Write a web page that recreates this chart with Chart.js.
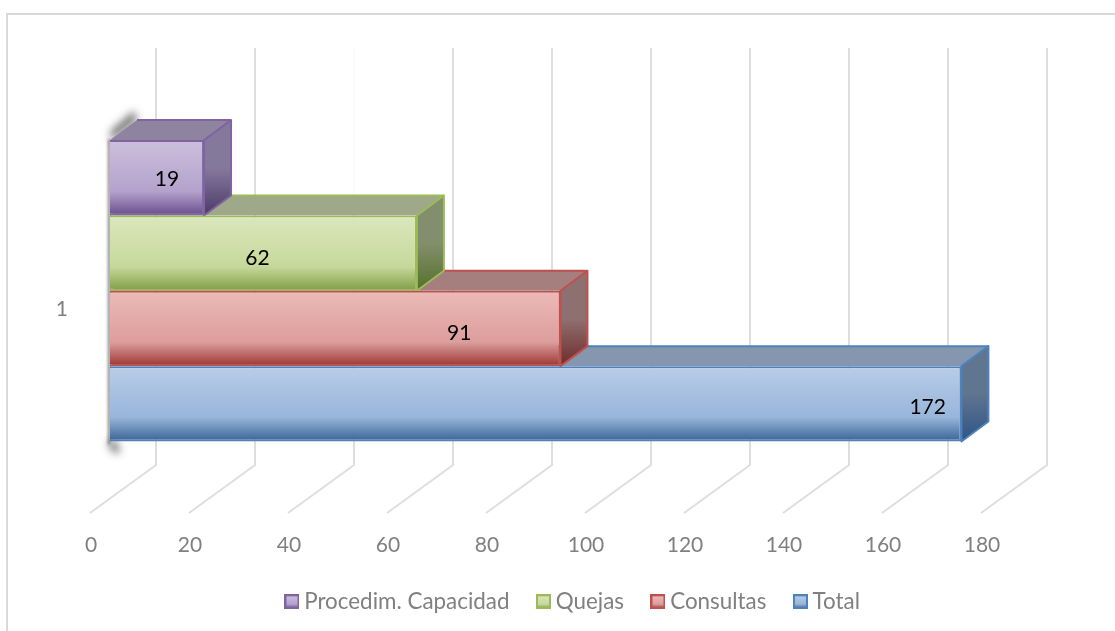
<!DOCTYPE html>
<html><head><meta charset="utf-8">
<style>html,body{margin:0;padding:0;background:#fff;overflow:hidden}#w{position:relative;width:1115px;height:631px}</style>
<script src="https://cdn.jsdelivr.net/npm/chart.js@4"></script>
</head><body><div id="w"><canvas id="c" width="1115" height="631"></canvas></div>
<script>
const categories = ['1'];
const seriesNames = ['Procedim. Capacidad', 'Quejas', 'Consultas', 'Total'];
const procedim = [19];
const quejas = [62];
const consultas = [91];
const total = [172];
const xTicks = [0, 20, 40, 60, 80, 100, 120, 140, 160, 180];

const looks = [
 {border:'#8064a2', front:['#cdbfdc','#b4a2cc','#694c8c'], top:'#8f849f', side:['#85799b','#4c3a68'], dx:10, dy:1.5},
 {border:'#9bbb59', front:['#dbe7bd','#c6d99b','#7f9e46'], top:'#9fa98a', side:['#838f6c','#55702a'], dx:-6, dy:5},
 {border:'#c0504d', front:['#ecbab8','#dc9e9c','#9c3633'], top:'#a57f7e', side:['#8f7070','#6f2b2a'], dx:124, dy:4.5},
 {border:'#4f81bd', front:['#b9cde8','#98b5da','#386295'], top:'#8597ae', side:['#5f7590','#2f5484'], dx:392, dy:3.5}
];
const values = [procedim, quejas, consultas, total];
const depth = {x:27, y:-20};
const wall = {dx:46, top:48, bottom:465, frontDx:-20, frontBottom:513, fadedTick:40, fadeUntil:196};
const legendShift = 75;

function swatch(l){
  const s=document.createElement('canvas'); s.width=15; s.height=15;
  const g=s.getContext('2d');
  const gr=g.createLinearGradient(0,1,0,14);
  gr.addColorStop(0,l.front[0]); gr.addColorStop(.7,l.front[1]); gr.addColorStop(1,l.front[2]);
  g.fillStyle=gr; g.fillRect(0,0,15,15);
  g.strokeStyle=l.border; g.lineWidth=2; g.strokeRect(1,1,13,13);
  return s;
}

const threeD = {
  id:'threeD',
  afterLayout(chart){
    chart.legend.left+=legendShift; chart.legend.right+=legendShift;
  },
  afterDatasetsUpdate(chart){
    chart.data.datasets.forEach((d,i)=>{
      const el=chart.getDatasetMeta(i).data[0], l=looks[i];
      const top=el.y-el.height/2, bot=el.y+el.height/2;
      const g=chart.ctx.createLinearGradient(0,top,0,bot);
      g.addColorStop(0,l.front[0]); g.addColorStop(.68,l.front[1]); g.addColorStop(1,l.front[2]);
      el.options=Object.assign({},el.options,{backgroundColor:g});
    });
  },
  beforeDatasetsDraw(chart){
    const c=chart.ctx, x=chart.scales.x;
    c.save();
    // frame
    c.strokeStyle='#d9d9d9'; c.lineWidth=2;
    c.beginPath(); c.moveTo(7,631); c.lineTo(7,14); c.lineTo(1115,14); c.stroke();
    // walls
    c.lineWidth=2; c.strokeStyle='#dedede';
    xTicks.forEach(v=>{
      const p=x.getPixelForValue(v);
      const faded=v===wall.fadedTick;
      if(faded){
        c.save(); c.strokeStyle='#f6f6f6'; c.lineWidth=1;
        c.beginPath(); c.moveTo(p+wall.dx,wall.top); c.lineTo(p+wall.dx,wall.fadeUntil); c.stroke();
        c.restore();
      }
      c.beginPath();
      c.moveTo(p+wall.dx,faded?wall.fadeUntil:wall.top); c.lineTo(p+wall.dx,wall.bottom);
      c.lineTo(p+wall.frontDx,wall.frontBottom);
      c.stroke();
    });
    // soft shadow of the block on the left, only the blur is shown
    const els=chart.data.datasets.map((d,i)=>chart.getDatasetMeta(i).data[0]);
    const e0=els[0], eN=els[els.length-1];
    const L=x.getPixelForValue(0), T=e0.y-e0.height/2, B=eN.y+eN.height/2;
    const off=3000;
    c.save();
    c.shadowOffsetX=off; c.shadowColor='rgba(70,70,70,.8)'; c.shadowBlur=8;
    c.fillStyle='#000';
    c.beginPath();
    c.moveTo(L+1-off,T+1); c.lineTo(L+1-off,T-9); c.lineTo(L+24-off,T-29); c.lineTo(L+27-off,T-20); c.closePath();
    c.fill();
    c.strokeStyle='#000'; c.lineCap='round';
    c.lineWidth=7;
    c.beginPath(); c.moveTo(L+2-off,B+2); c.lineTo(L+6-off,B+8); c.stroke();
    c.shadowBlur=3; c.lineWidth=2;
    c.beginPath(); c.moveTo(L-1-off,T); c.lineTo(L-1-off,B+2); c.stroke();
    c.restore();
    // side and top faces, back to front
    for(let i=els.length-1;i>=0;i--){
      const e=els[i], l=looks[i];
      const t=e.y-e.height/2, b=e.y+e.height/2, r=e.x, a=x.getPixelForValue(0);
      c.lineWidth=2; c.strokeStyle=l.border; c.lineJoin='round';
      c.fillStyle=l.top;
      c.beginPath(); c.moveTo(a,t); c.lineTo(a+depth.x,t+depth.y); c.lineTo(r+depth.x,t+depth.y); c.lineTo(r,t); c.closePath(); c.fill();
      c.beginPath(); c.moveTo(a+depth.x,t+depth.y); c.lineTo(r+depth.x,t+depth.y); c.stroke();
      const g=c.createLinearGradient(0,t+depth.y,0,b);
      g.addColorStop(0,l.side[0]); g.addColorStop(.5,l.side[0]); g.addColorStop(1,l.side[1]);
      c.fillStyle=g;
      c.beginPath(); c.moveTo(r,t); c.lineTo(r+depth.x,t+depth.y); c.lineTo(r+depth.x,b+depth.y); c.lineTo(r,b); c.closePath(); c.fill(); c.stroke();
    }
    c.restore();
  },
  afterDatasetsDraw(chart){
    const c=chart.ctx;
    c.save();
    c.font='21px Lato'; c.fillStyle='#000'; c.textAlign='center'; c.textBaseline='middle';
    chart.data.datasets.forEach((d,i)=>{
      const e=chart.getDatasetMeta(i).data[0], l=looks[i];
      const mid=(chart.scales.x.getPixelForValue(0)+e.x)/2;
      c.fillText(String(d.data[0]),mid+l.dx,e.y+l.dy);
    });
    c.restore();
  }
};

new Chart(document.getElementById('c'),{
  type:'bar',
  plugins:[threeD],
  data:{labels:categories,datasets:seriesNames.map((n,i)=>({
    label:n,data:values[i],backgroundColor:looks[i].front[1],borderColor:looks[i].border,borderWidth:2,
    categoryPercentage:301/459,barPercentage:1
  }))},
  options:{
    indexAxis:'y',responsive:false,animation:false,
    layout:{padding:{top:61,right:114,left:0,bottom:8}},
    scales:{
      x:{min:0,max:180,afterBuildTicks(a){a.ticks=xTicks.map(v=>({value:v}));},
         afterFit(s){s.height=37;},
         grid:{display:false},border:{display:false},
         ticks:{color:'#808080',font:{family:'Lato',size:21},labelOffset:-19,padding:4,maxRotation:0,autoSkip:false}},
      y:{afterFit(s){s.width=110;},grid:{display:false},border:{display:false},
         ticks:{color:'#808080',font:{family:'Lato',size:21},labelOffset:18,padding:34}}
    },
    plugins:{
      tooltip:{enabled:false},
      legend:{position:'bottom',align:'center',
        labels:{font:{family:'Lato',size:22.4},color:'#808080',usePointStyle:true,padding:33,boxWidth:2,boxHeight:15,
          generateLabels(chart){return chart.data.datasets.map((d,i)=>({text:d.label,pointStyle:swatch(looks[i]),fontColor:'#808080',datasetIndex:i,lineWidth:0,strokeStyle:'transparent',fillStyle:looks[i].front[1]}));}}}
    }
  }
});
</script></body></html>
